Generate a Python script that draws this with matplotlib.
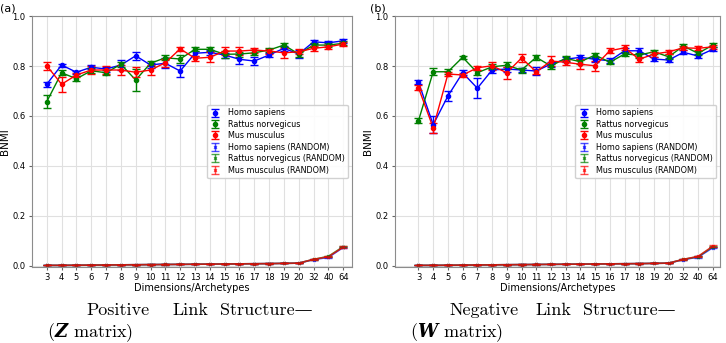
import matplotlib
matplotlib.use("Agg")
import matplotlib.pyplot as plt

plt.rcParams['mathtext.fontset'] = 'custom'
plt.rcParams['mathtext.bf'] = 'DejaVu Serif:italic:bold'

dims = ['3', '4', '5', '6', '7', '8', '9', '10', '11', '12', '13', '14', '15',
        '16', '17', '18', '19', '20', '32', '40', '64']
species = ['Homo sapiens', 'Rattus norvegicus', 'Mus musculus']
colors = ['blue', 'green', 'red']

# (a) positive link structure, Z matrix
z_homo = [0.727, 0.804, 0.775, 0.795, 0.788, 0.804, 0.841, 0.804, 0.811, 0.780, 0.851,
          0.855, 0.844, 0.827, 0.820, 0.844, 0.871, 0.848, 0.897, 0.893, 0.901]
z_rattus = [0.657, 0.773, 0.749, 0.781, 0.773, 0.807, 0.744, 0.811, 0.833, 0.828, 0.867,
            0.867, 0.847, 0.848, 0.853, 0.864, 0.884, 0.848, 0.884, 0.884, 0.891]
z_mus = [0.801, 0.727, 0.764, 0.784, 0.784, 0.784, 0.775, 0.784, 0.813, 0.869, 0.831,
         0.835, 0.860, 0.860, 0.864, 0.860, 0.853, 0.857, 0.871, 0.877, 0.888]
z_homo_err = [0.010, 0.006, 0.006, 0.008, 0.010, 0.020, 0.016, 0.010, 0.020, 0.025, 0.010,
              0.010, 0.010, 0.020, 0.015, 0.008, 0.010, 0.015, 0.008, 0.008, 0.008]
z_rattus_err = [0.025, 0.010, 0.010, 0.010, 0.010, 0.010, 0.045, 0.010, 0.010, 0.015, 0.008,
                0.008, 0.015, 0.010, 0.010, 0.008, 0.008, 0.010, 0.008, 0.008, 0.008]
z_mus_err = [0.015, 0.030, 0.010, 0.015, 0.015, 0.020, 0.020, 0.020, 0.015, 0.008, 0.010,
             0.020, 0.015, 0.015, 0.010, 0.010, 0.020, 0.010, 0.010, 0.008, 0.008]

# (b) negative link structure, W matrix
w_homo = [0.735, 0.565, 0.680, 0.773, 0.711, 0.784, 0.788, 0.784, 0.780, 0.808, 0.827,
          0.835, 0.827, 0.821, 0.861, 0.861, 0.828, 0.824, 0.855, 0.840, 0.867]
w_rattus = [0.581, 0.777, 0.777, 0.835, 0.773, 0.797, 0.803, 0.784, 0.835, 0.800, 0.831,
            0.817, 0.844, 0.815, 0.848, 0.844, 0.857, 0.837, 0.880, 0.851, 0.884]
w_mus = [0.713, 0.552, 0.768, 0.764, 0.793, 0.801, 0.773, 0.832, 0.777, 0.820, 0.815,
         0.807, 0.801, 0.861, 0.873, 0.827, 0.848, 0.857, 0.873, 0.871, 0.877]
w_homo_err = [0.008, 0.035, 0.020, 0.010, 0.040, 0.010, 0.010, 0.008, 0.015, 0.010, 0.010,
              0.008, 0.010, 0.010, 0.010, 0.012, 0.008, 0.008, 0.008, 0.008, 0.008]
w_rattus_err = [0.010, 0.015, 0.010, 0.006, 0.010, 0.010, 0.015, 0.010, 0.010, 0.010, 0.010,
                0.008, 0.010, 0.008, 0.008, 0.010, 0.008, 0.010, 0.008, 0.008, 0.008]
w_mus_err = [0.010, 0.020, 0.010, 0.010, 0.008, 0.015, 0.025, 0.015, 0.010, 0.020, 0.010,
             0.020, 0.020, 0.010, 0.010, 0.010, 0.010, 0.008, 0.008, 0.008, 0.008]

# random baselines
z_rand_homo = [0.001, 0.001, 0.0015, 0.002, 0.0025, 0.003, 0.0035, 0.004, 0.0045, 0.005, 0.0055,
               0.006, 0.0065, 0.007, 0.0075, 0.008, 0.009, 0.010, 0.024, 0.033, 0.073]
z_rand_rattus = [0.001, 0.001, 0.0015, 0.002, 0.0025, 0.003, 0.0035, 0.004, 0.0045, 0.005, 0.0055,
                 0.006, 0.0065, 0.007, 0.0075, 0.008, 0.009, 0.010, 0.025, 0.037, 0.076]
z_rand_mus = [0.001, 0.001, 0.0015, 0.002, 0.0025, 0.003, 0.0035, 0.004, 0.0045, 0.005, 0.0055,
              0.006, 0.0065, 0.007, 0.0075, 0.008, 0.009, 0.010, 0.025, 0.036, 0.074]
w_rand_homo = [0.001, 0.001, 0.0015, 0.002, 0.0025, 0.003, 0.0035, 0.004, 0.0045, 0.005, 0.0055,
               0.006, 0.0065, 0.007, 0.0075, 0.008, 0.009, 0.010, 0.024, 0.034, 0.072]
w_rand_rattus = [0.001, 0.001, 0.0015, 0.002, 0.0025, 0.003, 0.0035, 0.004, 0.0045, 0.005, 0.0055,
                 0.006, 0.0065, 0.007, 0.0075, 0.008, 0.009, 0.010, 0.025, 0.036, 0.076]
w_rand_mus = [0.001, 0.001, 0.0015, 0.002, 0.0025, 0.003, 0.0035, 0.004, 0.0045, 0.005, 0.0055,
              0.006, 0.0065, 0.007, 0.0075, 0.008, 0.009, 0.010, 0.025, 0.037, 0.078]
rand_err = [0.0005] * 18 + [0.002, 0.003, 0.003]


def draw_panel(ax, vals, errs, rands, xlim):
    x = list(range(len(dims)))
    # lines drawn separately so the legend only shows marker + error bar
    for v, e, c, name in zip(vals, errs, colors, species):
        ax.plot(x, v, color=c, lw=1)
        ax.errorbar(x, v, yerr=e, fmt='o', color=c, ms=3,
                    elinewidth=1, capsize=3, label=name)
    for r, c, name in zip(rands, colors, species):
        ax.plot(x, r, color=c, lw=1.2, alpha=0.7)
        ax.errorbar(x, r, yerr=rand_err, fmt='x', color=c, ms=2,
                    elinewidth=1, capsize=3, alpha=0.7, label=name + ' (RANDOM)')
    ax.set_xticks(x)
    ax.set_xticklabels(dims)
    ax.set_xlim(*xlim)
    ax.set_ylim(-0.005, 1.0)
    ax.set_yticks([0.0, 0.2, 0.4, 0.6, 0.8, 1.0])
    ax.tick_params(labelsize=6, length=2.5, color='0.4', pad=2)
    ax.grid(True, color='0.88', lw=0.8)
    ax.set_axisbelow(True)
    for s in ax.spines.values():
        s.set_color('0.55')
    ax.set_xlabel('Dimensions/Archetypes', fontsize=7, labelpad=1)
    ax.set_ylabel('BNMI', fontsize=7.5, labelpad=2)
    ax.legend(loc='center right', fontsize=5.8, framealpha=0.9,
              handlelength=1.2, handletextpad=0.9, borderpad=0.45, labelspacing=0.3)


fig = plt.figure(figsize=(7.26, 3.43), dpi=100)
ax1 = fig.add_axes([0.044, 0.222, 0.441, 0.731])
ax2 = fig.add_axes([0.544, 0.222, 0.448, 0.731])

draw_panel(ax1, [z_homo, z_rattus, z_mus], [z_homo_err, z_rattus_err, z_mus_err],
           [z_rand_homo, z_rand_rattus, z_rand_mus], (-1.0, 20.6))
draw_panel(ax2, [w_homo, w_rattus, w_mus], [w_homo_err, w_rattus_err, w_mus_err],
           [w_rand_homo, w_rand_rattus, w_rand_mus], (-1.6, 20.5))

fig.text(0.0, 0.975, '(a)', fontsize=8, va='center')
fig.text(0.51, 0.975, '(b)', fontsize=8, va='center')

cap = dict(fontsize=13, family=['cmr10', 'DejaVu Serif'], va='center')
y1 = 1 - 310 / 343
y2 = 1 - 333 / 343
for off, first, mat in [(0, 'Positive', 'Z'), (363, 'Negative', 'W')]:
    fig.text((86 + off) / 726, y1, first, **cap)
    fig.text((172 + off) / 726, y1, 'Link', **cap)
    fig.text((220 + off) / 726, y1, 'Structure\u2014', **cap)
    fig.text((47 + off) / 726, y2, '($\\mathbf{' + mat + '}$ matrix)', **cap)

fig.savefig('out.png', dpi=100)
